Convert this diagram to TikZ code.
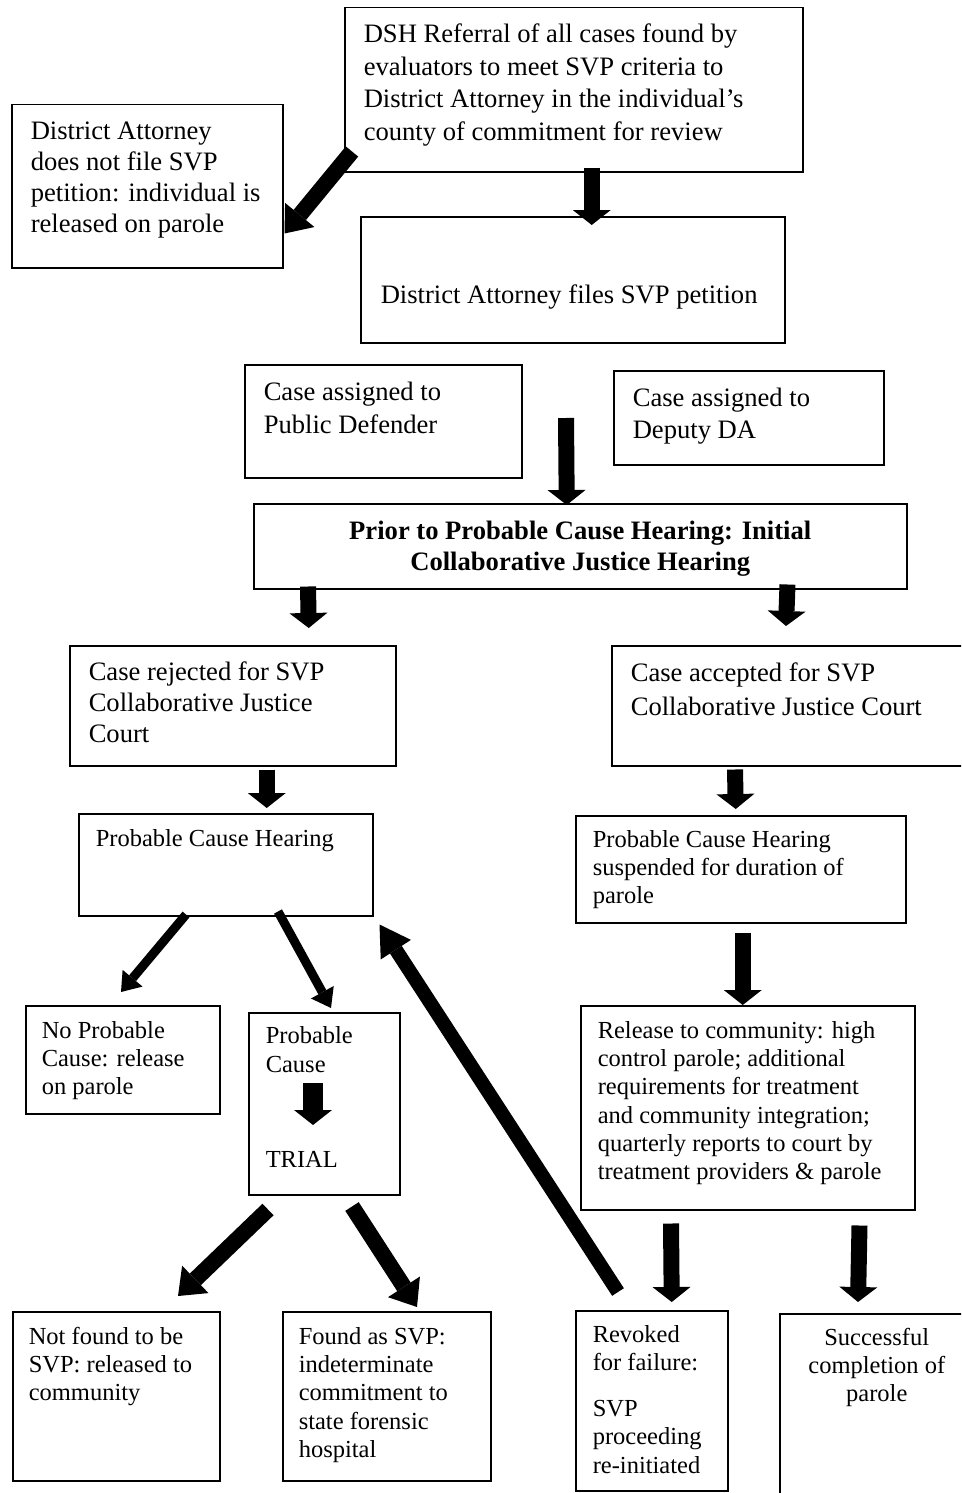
\documentclass[tikz,border=0pt]{standalone}
\usepackage{fontspec}
\setmainfont{Liberation Serif}
\usetikzlibrary{calc, positioning, arrows.meta}
\newcommand{\bigsize}[1][32]{\fontsize{26.6}{#1}\selectfont}
\newcommand{\smallsize}[1][28.3]{\fontsize{24.5}{#1}\selectfont}
\newcommand{\cell}[4]{\parbox[t][#2pt][t]{#1pt}{\vspace*{#3pt}\raggedright\strut #4}}
\newcommand{\cellc}[4]{\parbox[t][#2pt][t]{#1pt}{\vspace*{#3pt}\centering\strut #4}}
\tikzset{
    cellbox/.style={draw, line width=1.5pt, anchor=north west, inner ysep=0pt, inner xsep=#1},
    cellbox/.default=18pt,
    bigarrow/.style={line width=16pt, -{Triangle[length=15pt, width=38pt, line width=0pt]}},
    diagarrow/.style={line width=16pt, -{Triangle[length=24pt, width=38pt, line width=0pt]}},
    thinarrow/.style={line width=9pt, -{Triangle[length=18pt, width=26pt, line width=0pt]}},
    backarrow/.style={line width=14pt, -{Triangle[length=30pt, width=36pt, line width=0pt]}},
}
\begin{document}
\begin{tikzpicture}[x=1pt, y=-1pt]
\useasboundingbox (0,0) rectangle (961,1493);
\clip (0,0) rectangle (961,1493);

\node[cellbox=19pt] (dsh) at (344,7) {\bigsize[32.5]\cell{420}{164}{12.3}{DSH Referral of all cases found by\\evaluators to meet SVP criteria to\\District Attorney in the individual's\\county of commitment for review}};
\node[cellbox=19pt] (nofile) at (11,104) {\bigsize[31]\cell{233}{163}{12.8}{District Attorney\\does not file SVP\\petition: individual is\\released on parole}};
\node[cellbox=20pt] (files) at (360,216) {\bigsize\cell{384}{126}{64.1}{District Attorney files SVP petition}};
\node[cellbox=19pt] (pd) at (244,364) {\bigsize[33]\cell{239}{113}{12.4}{Case assigned to\\Public Defender}};
\node[cellbox=19pt] (dda) at (613,370) {\bigsize\cell{232}{94}{13.1}{Case assigned to\\Deputy DA}};
\node[cellbox=0pt] (prior) at (253,503) {\bigsize[31]\bfseries\cellc{653}{85}{13.8}{Prior to Probable Cause Hearing: Initial\\Collaborative Justice Hearing}};
\node[cellbox=19pt] (rejected) at (69,645) {\bigsize[31]\cell{288}{120}{12.8}{Case rejected for SVP\\Collaborative Justice\\Court}};
\node[cellbox=19pt] (accepted) at (611,645) {\bigsize[34]\cell{330}{120}{11.7}{Case accepted for SVP\\Collaborative Justice Court}};

\node[cellbox=17pt] (pch) at (78,813) {\smallsize\cell{260}{102}{12.7}{Probable Cause Hearing}};
\node[cellbox=17pt] (susp) at (575,815) {\smallsize\cell{296}{107}{11.7}{Probable Cause Hearing\\suspended for duration of\\parole}};
\node[cellbox=16pt] (noprob) at (25,1005) {\smallsize\cell{162}{108}{12.7}{No Probable\\Cause: release\\on parole}};
\node[cellbox=17pt] (prob) at (248,1012) {\smallsize\cell{117}{182}{11.2}{Probable\\Cause\\[67.4pt]TRIAL}};
\node[cellbox=17pt] (release) at (580,1005) {\smallsize\cell{300}{204}{12.7}{Release to community: high\\control parole; additional\\requirements for treatment\\and community integration;\\quarterly reports to court by\\treatment providers \& parole}};
\node[cellbox=16pt] (notfound) at (12,1311) {\smallsize\cell{175}{169}{12.7}{Not found to be\\SVP: released to\\community}};
\node[cellbox=16pt] (found) at (282,1311) {\smallsize\cell{176}{169}{12.7}{Found as SVP:\\indeterminate\\commitment to\\state forensic\\hospital}};
\node[cellbox=17pt] (revoked) at (575,1310) {\smallsize\cell{118}{180}{11.7}{Revoked\\for failure:\\[17.7pt]SVP\\proceeding\\re-initiated}};
\node[cellbox=0pt] (success) at (779,1313) {\smallsize\cellc{194}{200}{11.7}{Successful\\completion of\\parole}};

\coordinate (split) at (566,418);

\draw[diagarrow] ([shift={(8,-21)}]dsh.south west) -- ([shift={(1,-35)}]nofile.south east);
\draw[bigarrow] ([shift={(18,-5)}]dsh.south) -- ([shift={(19,9)}]files.north);
\draw[bigarrow] (split) -- ([shift={(-13.5,2)}]prior.north);
\draw[bigarrow] ([shift={(55,-3)}]prior.south west) -- ([shift={(76,-17)}]rejected.north);
\draw[bigarrow] ([shift={(-120,-5)}]prior.south east) -- ([shift={(175,-19)}]accepted.north west);
\draw[bigarrow] ([shift={(34,3)}]rejected.south) -- ([shift={(41,-5)}]pch.north);
\draw[bigarrow] ([shift={(124,3)}]accepted.south west) -- ([shift={(-5,-6)}]susp.north);
\draw[thinarrow] ([shift={(108,-2)}]pch.south west) -- ([shift={(96,-13)}]noprob.north west);
\draw[thinarrow] ([shift={(200,-5)}]pch.south west) -- ([shift={(83,-4)}]prob.north west);
\draw[bigarrow] ([shift={(2,9)}]susp.south) -- ([shift={(-5,0)}]release.north);
\draw[bigarrow, line width=20pt] ([shift={(65,71)}]prob.north west) -- ([shift={(65,113)}]prob.north west);
\draw[diagarrow] ([shift={(20,14)}]prob.south west) -- ([shift={(166,-15)}]notfound.north west);
\draw[diagarrow] ([shift={(104,11)}]prob.south west) -- ([shift={(135,-4)}]found.north west);
\draw[backarrow] ([shift={(43,-18)}]revoked.north west) -- ([shift={(6,8)}]pch.south east);
\draw[bigarrow] ([shift={(91,13)}]release.south west) -- ([shift={(20,-8)}]revoked.north);
\draw[bigarrow] ([shift={(-56,15)}]release.south east) -- ([shift={(79,-11)}]success.north west);

\end{tikzpicture}
\end{document}
